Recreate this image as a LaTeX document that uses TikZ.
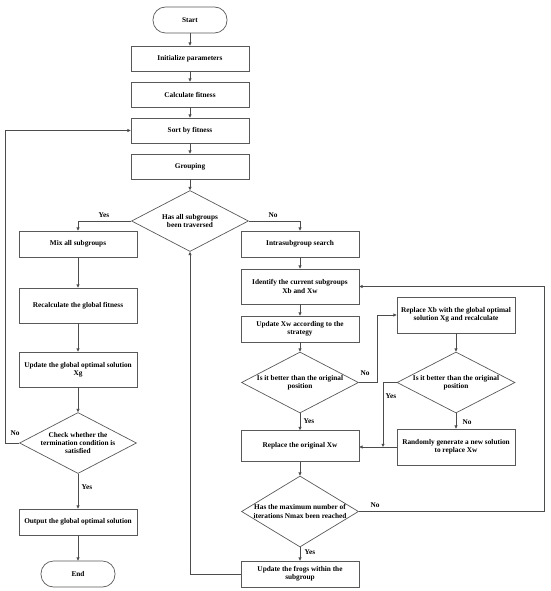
\documentclass[tikz,border=0pt]{standalone}
\usepackage{fontspec}
\setmainfont{Liberation Serif}
\usetikzlibrary{shapes.geometric,arrows.meta}
\begin{document}
\begin{tikzpicture}[x=1pt,y=-1pt,
  every node/.style={font=\fontsize{7.3}{8.4}\selectfont\bfseries},
  proc/.style={draw=black!65,line width=0.7pt,rectangle,minimum width=118pt,align=center,inner sep=1pt},
  term/.style={draw=black!65,line width=0.7pt,rectangle,rounded corners=12.5pt,minimum width=74pt,minimum height=26pt},
  deci/.style={draw=black!65,line width=0.7pt,diamond,minimum width=117pt,minimum height=61pt,inner sep=0pt},
  dtext/.style={align=center,inner sep=0pt},
  conn/.style={draw=black!70,line width=0.7pt,-{Triangle[length=3.2pt,width=3pt]}},
  lab/.style={font=\fontsize{7.3}{8.4}\selectfont\bfseries,inner sep=0pt}]
\useasboundingbox (0,0) rectangle (550,591);
\node[term] (start) at (190,20) {Start};
\node[proc,minimum height=25pt] (init) at (190,58.5) {Initialize parameters};
\node[proc,minimum height=25pt] (calc) at (190,94.5) {Calculate fitness};
\node[proc,minimum height=25pt] (sort) at (190,130.5) {Sort by fitness};
\node[proc,minimum height=25pt] (group) at (190,166.5) {Grouping};
\node[deci] (d1) at (190,221) {};
\node[dtext] (t1) at (d1) {Has all subgroups\\been traversed};
\node[proc,minimum height=26pt] (mix) at (78,244) {Mix all subgroups};
\node[proc,minimum height=35pt] (recalc) at (78,305.5) {Recalculate the global fitness};
\node[proc,minimum height=35pt] (updg) at (78,369.5) {Update the global optimal solution\\Xg};
\node[deci] (d2) at (78,443) {};
\node[dtext] (t2) at (d2) {Check whether the\\termination condition is\\satisfied};
\node[proc,minimum height=26pt] (output) at (78,522) {Output the global optimal solution};
\node[term] (end) at (78,574) {End};
\node[proc,minimum height=26pt] (intra) at (300,244) {Intrasubgroup search};
\node[proc,minimum height=35pt] (ident) at (300,286.5) {Identify the current subgroups\\Xb and Xw};
\node[proc,minimum height=26pt] (updxw) at (300,329) {Update Xw according to the\\strategy};
\node[deci] (d3) at (300,382.5) {};
\node[dtext] (t3) at (d3) {Is it better than the original\\position};
\node[proc,minimum height=36pt] (replxb) at (456,315) {Replace Xb with the global optimal\\solution Xg and recalculate};
\node[deci,minimum width=118pt] (d4) at (456,382.5) {};
\node[dtext] (t4) at (d4) {Is it better than the original\\position};
\node[proc,minimum height=31pt] (replorig) at (300,446) {Replace the original Xw};
\node[proc,minimum height=36pt] (random) at (456,447) {Randomly generate a new solution\\to replace Xw};
\node[deci,minimum height=71pt] (d5) at (300,511.5) {};
\node[dtext] (t5) at (d5) {Has the maximum number of\\iterations Nmax been reached};
\node[proc,minimum height=26pt] (frogs) at (300,574) {Update the frogs within the\\subgroup};
\coordinate (lft) at (5,443);
\coordinate (c3) at (377,382.5);
\coordinate (c4) at (383,382.5);
\coordinate (j4) at (383,447);
\coordinate (rt) at (544,511.5);
\coordinate (fl) at (190,574);
\draw[conn] (start) -- (init);
\draw[conn] (init) -- (calc);
\draw[conn] (calc) -- (sort);
\draw[conn] (sort) -- (group);
\draw[conn] (group) -- (d1);
\draw[conn] (d1.west) -| (mix.north);
\draw[conn] (d1.east) -| (intra.north);
\draw[conn] (mix) -- (recalc);
\draw[conn] (recalc) -- (updg);
\draw[conn] (updg) -- (d2);
\draw[conn] (d2) -- (output);
\draw[conn] (output) -- (end);
\draw[conn] (d2.west) -- (lft) |- (sort.west);
\draw[conn] (intra) -- (ident);
\draw[conn] (ident) -- (updxw);
\draw[conn] (updxw) -- (d3);
\draw[conn] (d3.east) -- (c3) |- (replxb.west);
\draw[conn] (replxb) -- (d4);
\draw[conn] (d4.west) -- (c4) -- (j4);
\draw[conn] (d4) -- (random);
\draw[conn] (random.west |- j4) -- (replorig.east |- j4);
\draw[conn] (d3) -- (replorig);
\draw[conn] (replorig) -- (d5);
\draw[conn] (d5.east) -- (rt) |- (ident.east);
\draw[conn] (d5) -- (frogs);
\draw[conn] (frogs.west) -- (fl) -- (d1.south);
\node[lab] (y1) at (104,215) {Yes};
\node[lab] (n1) at (273,215) {No};
\node[lab] (n2) at (15,433) {No};
\node[lab] (y2) at (87,487) {Yes};
\node[lab] (n3) at (365,373) {No};
\node[lab] (y3) at (309,421) {Yes};
\node[lab] (y4) at (391,396) {Yes};
\node[lab] (n4) at (467,422) {No};
\node[lab] (n5) at (375,505) {No};
\node[lab] (y5) at (310,552) {Yes};
\end{tikzpicture}
\end{document}
